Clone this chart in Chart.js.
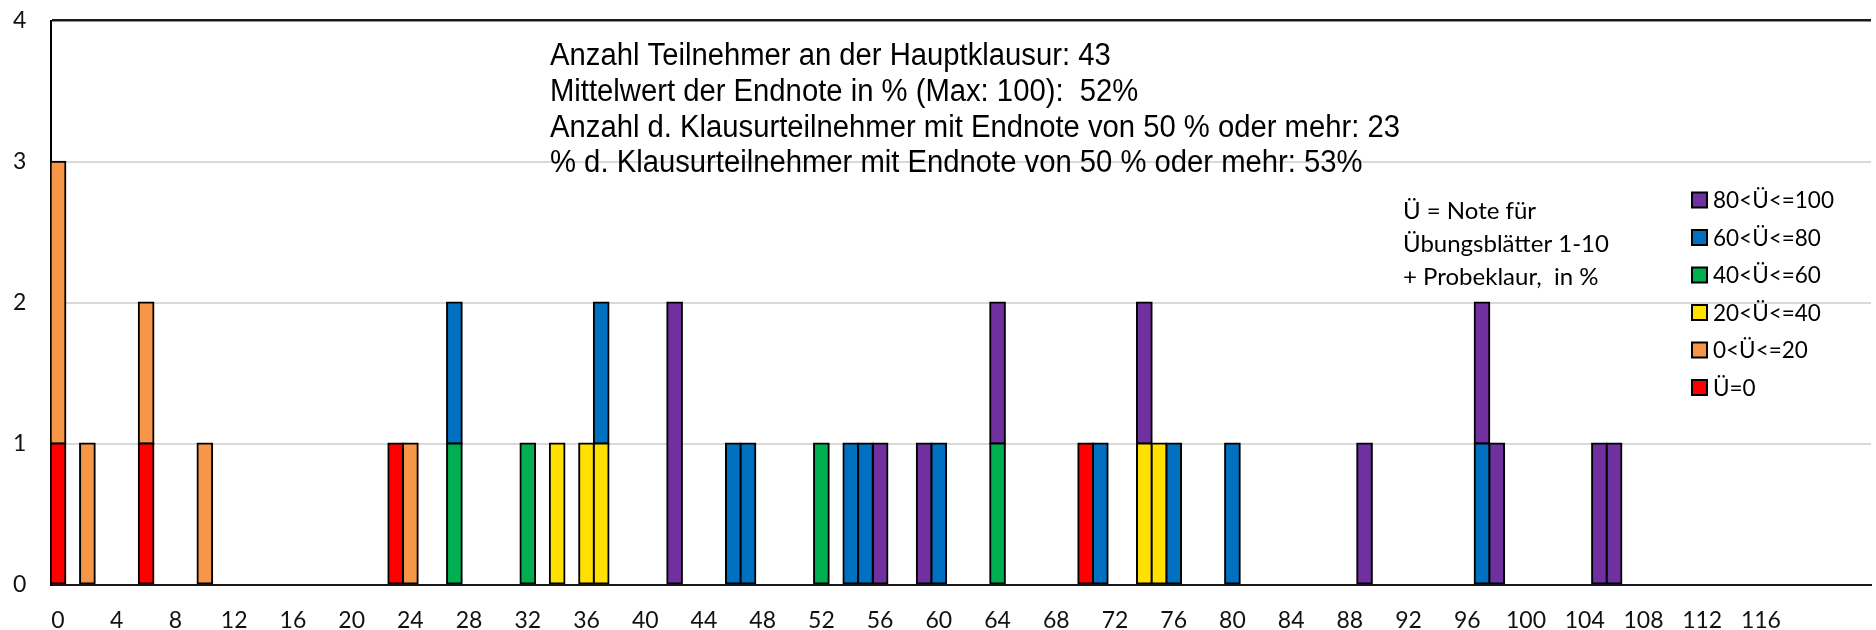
<!DOCTYPE html>
<html>
<head>
<meta charset="utf-8">
<script src="https://cdn.jsdelivr.net/npm/chart.js@4.4.1/dist/chart.umd.min.js"></script>
<style>
  html, body { margin: 0; padding: 0; background: #fff; overflow: hidden; }
  #wrap { width: 1876px; height: 630px; position: relative; }
</style>
</head>
<body>
<div id="wrap"><canvas id="chart" width="1876" height="630"></canvas></div>
<script>
// Histogramm Endnote (x) gestapelt nach Übungsnote Ü
const CATEGORY_COUNT = 124;           // x: 0 .. 123 (Endnote in %)
const TICK_STEP = 4, TICK_MAX = 116;
const Y_MAX = 4;

const seriesNames = ['Ü=0', '0<Ü<=20', '20<Ü<=40', '40<Ü<=60', '60<Ü<=80', '80<Ü<=100'];
const seriesColors = ['#FF0000', '#F79646', '#FFE000', '#00B050', '#0070C0', '#7030A0'];

// [Endnote, Anzahl]
const ue0 = [[0, 1], [6, 1], [23, 1], [70, 1]];
const ue0to20 = [[0, 2], [2, 1], [6, 1], [10, 1], [24, 1]];
const ue20to40 = [[34, 1], [36, 1], [37, 1], [74, 1], [75, 1]];
const ue40to60 = [[27, 1], [32, 1], [52, 1], [64, 1]];
const ue60to80 = [[27, 1], [37, 1], [46, 1], [47, 1], [54, 1], [55, 1], [60, 1], [71, 1], [76, 1], [80, 1], [97, 1]];
const ue80to100 = [[42, 2], [56, 1], [59, 1], [64, 1], [74, 1], [89, 1], [97, 1], [98, 1], [105, 1], [106, 1]];

const infoLines = [
  'Anzahl Teilnehmer an der Hauptklausur: 43',
  'Mittelwert der Endnote in % (Max: 100):  52%',
  'Anzahl d. Klausurteilnehmer mit Endnote von 50 % oder mehr: 23',
  '% d. Klausurteilnehmer mit Endnote von 50 % oder mehr: 53%'
];
const noteLines = ['Ü = Note für', 'Übungsblätter 1-10', '+ Probeklaur,  in %'];

const labels = Array.from({ length: CATEGORY_COUNT }, (_, i) => String(i));
const toSeries = (pairs) => {
  const arr = new Array(CATEGORY_COUNT).fill(null);
  pairs.forEach(([k, v]) => { arr[k] = v; });
  return arr;
};
const allPairs = [ue0, ue0to20, ue20to40, ue40to60, ue60to80, ue80to100];

const datasets = allPairs.map((pairs, i) => ({
  label: seriesNames[i],
  data: toSeries(pairs),
  backgroundColor: seriesColors[i],
  borderColor: '#000',
  borderWidth: 2,
  borderSkipped: false,
  inflateAmount: 1,
  barPercentage: 1,
  categoryPercentage: 1
}));

const TICK_FONT = 23;

// Textfelder + Legende (rechts, Reihenfolge umgekehrt)
const textPlugin = {
  id: 'texts',
  afterDraw(chart) {
    const ctx = chart.ctx;
    ctx.save();
    ctx.font = '31px "Liberation Sans", Arial, sans-serif';
    ctx.fillStyle = '#000';
    ctx.textBaseline = 'middle';
    const sx = 850 / ctx.measureText(infoLines[2]).width;
    const infoY = [56, 92, 128, 163];
    infoLines.forEach((t, i) => {
      ctx.save();
      ctx.translate(550, infoY[i]);
      ctx.scale(sx, 1);
      ctx.fillText(t, 0, 0);
      ctx.restore();
    });
    ctx.font = '24px Lato, "Open Sans", sans-serif';
    const noteY = [211, 244, 277];
    noteLines.forEach((t, i) => ctx.fillText(t, 1403, noteY[i]));
    ctx.font = '22.5px Lato, "Open Sans", sans-serif';
    const legY = [200, 237.5, 275, 312.5, 350, 387.5];
    chart.data.datasets.slice().reverse().forEach((ds, i) => {
      const y = legY[i];
      ctx.fillStyle = ds.backgroundColor;
      ctx.fillRect(1692, y - 7.5, 15, 15);
      ctx.lineWidth = 2;
      ctx.strokeStyle = '#000';
      ctx.strokeRect(1692, y - 7.5, 15, 15);
      ctx.fillStyle = '#000';
      ctx.fillText(ds.label, 1713, y + 1);
    });
    ctx.restore();
  }
};

new Chart(document.getElementById('chart'), {
  type: 'bar',
  data: { labels, datasets },
  options: {
    responsive: false,
    animation: false,
    layout: { padding: { top: 0, right: 5, left: 13, bottom: 0 } },
    plugins: { legend: { display: false }, tooltip: { enabled: false } },
    scales: {
      x: {
        stacked: true,
        grid: { display: false, drawTicks: false },
        border: { display: true, color: '#1a1a1a', width: 2 },
        ticks: {
          autoSkip: false, maxRotation: 0, padding: 22, color: '#111',
          font: { family: 'Lato', size: TICK_FONT },
          callback: (v, i) => (i % TICK_STEP === 0 && i <= TICK_MAX ? labels[i] : null)
        },
        afterFit: (s) => { s.height = 45.5; }
      },
      y: {
        stacked: true,
        min: 0, max: Y_MAX,
        grid: {
          drawTicks: false,
          color: (c) => (c.tick.value === Y_MAX || c.tick.value === 0 ? '#1a1a1a' : '#d9d9d9'),
          lineWidth: (c) => (c.tick.value === Y_MAX ? 2.5 : 2)
        },
        border: { display: true, color: '#000', width: 2 },
        ticks: { stepSize: 1, padding: 6.9, crossAlign: 'far', color: '#111', font: { family: 'Lato', size: TICK_FONT } },
        afterFit: (s) => { s.width = 37.7; }
      }
    }
  },
  plugins: [textPlugin]
});
</script>
</body>
</html>
